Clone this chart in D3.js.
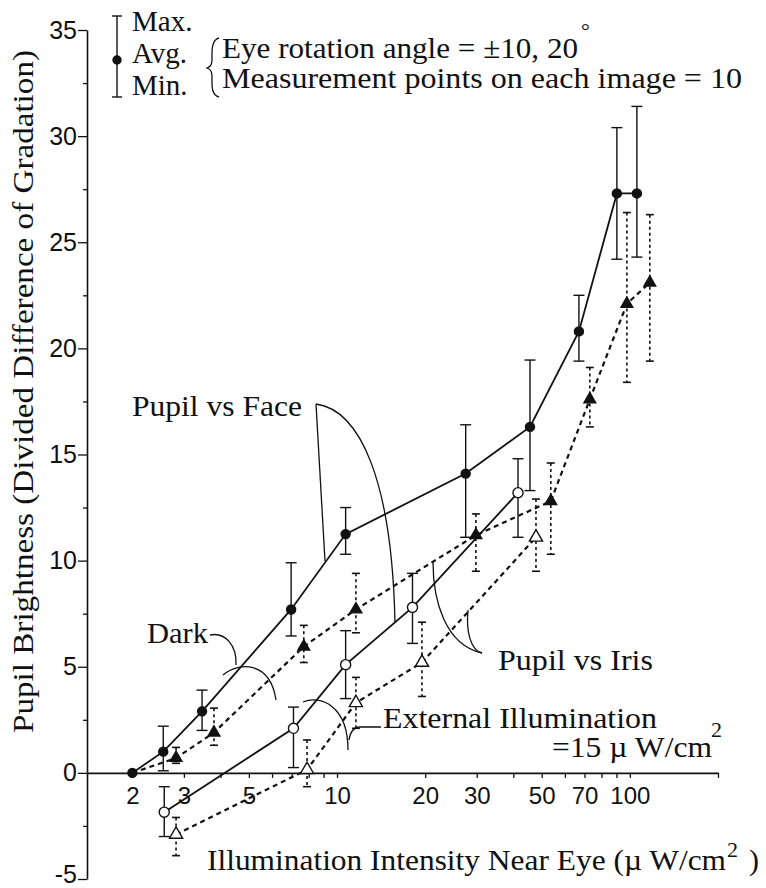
<!DOCTYPE html>
<html>
<head>
<meta charset="utf-8">
<script src="https://cdn.jsdelivr.net/npm/d3@7"></script>
<style>
  body { margin: 0; background: #fff; }
  svg { display: block; }
</style>
</head>
<body>
<div id="chart"></div>
<script>
// values (x = illumination, uW/cm2 ; y = pupil brightness)
const faceDarkX   = [2.0, 2.55, 3.46, 6.97, 10.7, 27.5, 45.6, 67, 90.3, 105.7];
const faceDarkAvg = [0.0, 1.0, 2.9, 7.7, 11.25, 14.1, 16.3, 20.8, 27.3, 27.3];
const faceDarkMax = [null, 2.2, 3.9, 9.9, 12.5, 16.4, 19.45, 22.5, 30.4, 31.4];
const faceDarkMin = [null, 0.1, 2.0, 6.45, 10.3, 11.1, 13.3, 19.4, 24.2, 24.3];

const faceExtX   = [2.82, 3.8, 7.7, 11.6, 29.8, 53.7, 73, 97.7, 117];
const faceExtAvg = [0.7, 1.9, 5.95, 7.7, 11.2, 12.8, 17.6, 22.1, 23.1];
const faceExtMax = [1.2, 3.05, 6.95, 9.4, 12.2, 14.6, 19.1, 26.4, 26.3];
const faceExtMin = [0.45, 1.3, 5.2, 6.6, 9.5, 10.3, 16.3, 18.4, 19.4];
const faceExtStart = [2.0, 0.0]; // dashed line starts from the first dark point

const irisDarkX   = [2.57, 7.1, 10.7, 18.1, 41.5];
const irisDarkAvg = [-1.85, 2.1, 5.1, 7.8, 13.2];
const irisDarkMax = [-0.65, 3.1, 6.7, 9.4, 14.8];
const irisDarkMin = [-3.0, 0.25, 3.5, 6.1, 11.1];

const irisExtX   = [2.82, 7.9, 11.6, 19.5, 47.8];
const irisExtAvg = [-2.9, 0.15, 3.3, 5.2, 11.1];
const irisExtMax = [-2.1, 1.55, 4.5, 7.1, 12.9];
const irisExtMin = [-3.9, -0.65, 2.1, 3.6, 9.5];

const xTickLabels = [2, 3, 5, 10, 20, 30, 50, 70, 100];
const xMinorTicks = [4, 6, 7, 8, 9, 40, 60, 80, 90, 200];
const yTickLabels = [-5, 0, 5, 10, 15, 20, 25, 30, 35];
const yMinorTicks = [-2.5, 2.5, 7.5, 12.5, 17.5, 22.5, 27.5, 32.5];

const width = 766;
const height = 888;
const ink = "#111";
const serif = "'Liberation Serif', 'Times New Roman', serif";
const sans = "'Liberation Sans', Arial, sans-serif";

const svg = d3.select("#chart")
  .append("svg")
  .attr("width", width)
  .attr("height", height);

const x = d3.scaleLog().domain([1.4, 200]).range([87, 718]);
const y = d3.scaleLinear().domain([-5, 35]).range([879, 30]);

// y axis
const yAxis = svg.append("g")
  .attr("transform", `translate(${x(1.4)},0)`)
  .call(d3.axisLeft(y).tickValues(yTickLabels).tickSize(9).tickPadding(1)
    .tickSizeOuter(0).tickFormat(d => String(d)));
svg.append("g")
  .attr("transform", `translate(${x(1.4)},0)`)
  .call(d3.axisLeft(y).tickValues(yMinorTicks).tickSize(4).tickFormat(""))
  .call(g => g.select(".domain").remove());

// x axis on the zero line
const xAxis = svg.append("g")
  .attr("transform", `translate(0,${y(0)})`)
  .call(d3.axisBottom(x).tickValues(xTickLabels).tickSize(5).tickPadding(9)
    .tickSizeOuter(0).tickFormat(d => String(d)));
svg.append("g")
  .attr("transform", `translate(0,${y(0)})`)
  .call(d3.axisBottom(x).tickValues(xMinorTicks).tickSize(5).tickFormat(""))
  .call(g => g.select(".domain").remove());

svg.selectAll(".domain").attr("stroke", ink).attr("stroke-width", 1.6);
svg.selectAll(".tick line").attr("stroke", ink).attr("stroke-width", 1.3);
svg.selectAll(".tick text")
  .attr("fill", ink)
  .style("font-family", sans)
  .style("font-size", "24px");
yAxis.selectAll(".tick text").style("font-size", "25px");
// keep the lowest label inside the page
yAxis.selectAll(".tick text").filter(d => d === -5).attr("dy", "0.12em");

// axis titles
svg.append("text")
  .attr("transform", `translate(33,${(50 + 733) / 2}) rotate(-90)`)
  .attr("text-anchor", "middle")
  .attr("textLength", 683)
  .attr("lengthAdjust", "spacingAndGlyphs")
  .style("font-family", serif).style("font-size", "30px").attr("fill", ink)
  .text("Pupil Brightness (Divided Difference of Gradation)");

svg.append("text")
  .attr("x", 207).attr("y", 870)
  .attr("textLength", 519)
  .attr("lengthAdjust", "spacingAndGlyphs")
  .style("font-family", serif).style("font-size", "30px").attr("fill", ink)
  .text("Illumination Intensity Near Eye (\u00b5 W/cm");
svg.append("text")
  .attr("x", 727).attr("y", 857)
  .style("font-family", serif).style("font-size", "22px").attr("fill", ink)
  .text("2");
svg.append("text")
  .attr("x", 749).attr("y", 870)
  .style("font-family", serif).style("font-size", "30px").attr("fill", ink)
  .text(")");

// build point records
const toPoints = (xs, avg, mx, mn) =>
  xs.map((d, i) => ({ x: d, avg: avg[i], max: mx[i], min: mn[i] }));

const faceDark = toPoints(faceDarkX, faceDarkAvg, faceDarkMax, faceDarkMin);
const faceExt = toPoints(faceExtX, faceExtAvg, faceExtMax, faceExtMin);
const irisDark = toPoints(irisDarkX, irisDarkAvg, irisDarkMax, irisDarkMin);
const irisExt = toPoints(irisExtX, irisExtAvg, irisExtMax, irisExtMin);

const line = d3.line().x(d => x(d.x)).y(d => y(d.avg));

const plot = svg.append("g");

function drawLine(data, dashed) {
  plot.append("path")
    .datum(data)
    .attr("d", line)
    .attr("fill", "none")
    .attr("stroke", ink)
    .attr("stroke-width", dashed ? 2.2 : 1.8)
    .attr("stroke-dasharray", dashed ? "5,4" : null);
}

function drawBars(data, dashed) {
  const capW = dashed ? 4 : 5.5;
  const g = plot.append("g")
    .attr("stroke", ink)
    .attr("stroke-width", dashed ? 1.6 : 1.4);
  const bars = data.filter(d => d.max != null);
  g.selectAll("line.bar")
    .data(bars)
    .join("line")
    .attr("class", "bar")
    .attr("x1", d => x(d.x)).attr("x2", d => x(d.x))
    .attr("y1", d => y(d.max)).attr("y2", d => y(d.min))
    .attr("stroke-dasharray", dashed ? "3,3" : null);
  g.selectAll("line.capTop")
    .data(bars)
    .join("line")
    .attr("class", "capTop")
    .attr("x1", d => x(d.x) - capW).attr("x2", d => x(d.x) + capW)
    .attr("y1", d => y(d.max)).attr("y2", d => y(d.max));
  g.selectAll("line.capBot")
    .data(bars)
    .join("line")
    .attr("class", "capBot")
    .attr("x1", d => x(d.x) - capW).attr("x2", d => x(d.x) + capW)
    .attr("y1", d => y(d.min)).attr("y2", d => y(d.min));
}

function drawMarkers(data, type, filled) {
  const sym = d3.symbol().type(type).size(type === d3.symbolCircle ? (filled ? 64 : 80) : (filled ? 60 : 75));
  plot.append("g")
    .selectAll("path")
    .data(data)
    .join("path")
    .attr("transform", d => `translate(${x(d.x)},${y(d.avg)})`)
    .attr("d", sym)
    .attr("fill", filled ? ink : "#fff")
    .attr("stroke", ink)
    .attr("stroke-width", 1.4);
}

drawLine([{ x: faceExtStart[0], avg: faceExtStart[1] }].concat(faceExt), true);
drawLine(irisExt, true);
drawLine(faceDark, false);
drawLine(irisDark, false);

drawBars(faceExt, true);
drawBars(irisExt, true);
drawBars(faceDark, false);
drawBars(irisDark, false);

drawMarkers(faceExt, d3.symbolTriangle, true);
drawMarkers(irisExt, d3.symbolTriangle, false);
drawMarkers(faceDark, d3.symbolCircle, true);
drawMarkers(irisDark, d3.symbolCircle, false);

// legend for the bar symbol
const leg = svg.append("g").attr("stroke", ink).attr("stroke-width", 1.4);
leg.append("line").attr("x1", 117).attr("x2", 117).attr("y1", 16).attr("y2", 97);
leg.append("line").attr("x1", 112).attr("x2", 122).attr("y1", 16).attr("y2", 16);
leg.append("line").attr("x1", 112).attr("x2", 122).attr("y1", 97).attr("y2", 97);
leg.append("circle").attr("cx", 117).attr("cy", 60).attr("r", 4).attr("fill", ink);

const legendText = [["Max.", 31], ["Avg.", 63], ["Min.", 95]];
svg.selectAll("text.leg")
  .data(legendText)
  .join("text")
  .attr("class", "leg")
  .attr("x", 132).attr("y", d => d[1])
  .style("font-family", serif).style("font-size", "29px").attr("fill", ink)
  .text(d => d[0]);

// conditions note with brace
svg.append("path")
  .attr("d", "M219,38 C211,40 212,52 212,60 C212,65 210,67 207,68 C210,69 212,71 212,76 C212,85 211,95 219,97")
  .attr("fill", "none").attr("stroke", ink).attr("stroke-width", 1.3);
svg.append("text")
  .attr("x", 222).attr("y", 58)
  .attr("textLength", 356).attr("lengthAdjust", "spacingAndGlyphs")
  .style("font-family", serif).style("font-size", "29px").attr("fill", ink)
  .text("Eye rotation angle = \u00b110, 20");
svg.append("text")
  .attr("x", 581).attr("y", 38)
  .style("font-family", serif).style("font-size", "22px").attr("fill", ink)
  .text("\u00b0");
svg.append("text")
  .attr("x", 222).attr("y", 88)
  .attr("textLength", 520).attr("lengthAdjust", "spacingAndGlyphs")
  .style("font-family", serif).style("font-size", "29px").attr("fill", ink)
  .text("Measurement points on each image = 10");

// annotations
const notes = svg.append("g")
  .style("font-family", serif).style("font-size", "30px").attr("fill", ink);
notes.append("text").attr("x", 132).attr("y", 416).attr("textLength", 170)
  .attr("lengthAdjust", "spacingAndGlyphs").text("Pupil vs Face");
notes.append("text").attr("x", 147).attr("y", 643).attr("textLength", 61)
  .attr("lengthAdjust", "spacingAndGlyphs").text("Dark");
notes.append("text").attr("x", 498).attr("y", 670).attr("textLength", 155)
  .attr("lengthAdjust", "spacingAndGlyphs").text("Pupil vs Iris");
notes.append("text").attr("x", 383).attr("y", 728).attr("textLength", 274)
  .attr("lengthAdjust", "spacingAndGlyphs").text("External Illumination");
notes.append("text").attr("x", 552).attr("y", 757).attr("textLength", 160)
  .attr("lengthAdjust", "spacingAndGlyphs").text("=15 \u00b5 W/cm");
notes.append("text").attr("x", 711).attr("y", 737)
  .style("font-size", "22px").text("2");

const leaders = [
  "M316,404 L325,561",
  "M316,404 C360,410 392,480 395,623",
  "M210,635 C225,632 237,645 236,665",
  "M223,675 C238,662 270,660 276,700",
  "M433,562 C433,600 445,645 482,653",
  "M468,610 C466,630 470,650 482,653",
  "M303,702 C320,695 348,705 348,750",
  "M349,740 Q351,727 360,727 L381,727"
];
svg.append("g")
  .selectAll("path")
  .data(leaders)
  .join("path")
  .attr("d", d => d)
  .attr("fill", "none")
  .attr("stroke", ink)
  .attr("stroke-width", 1.3);
</script>
</body>
</html>
